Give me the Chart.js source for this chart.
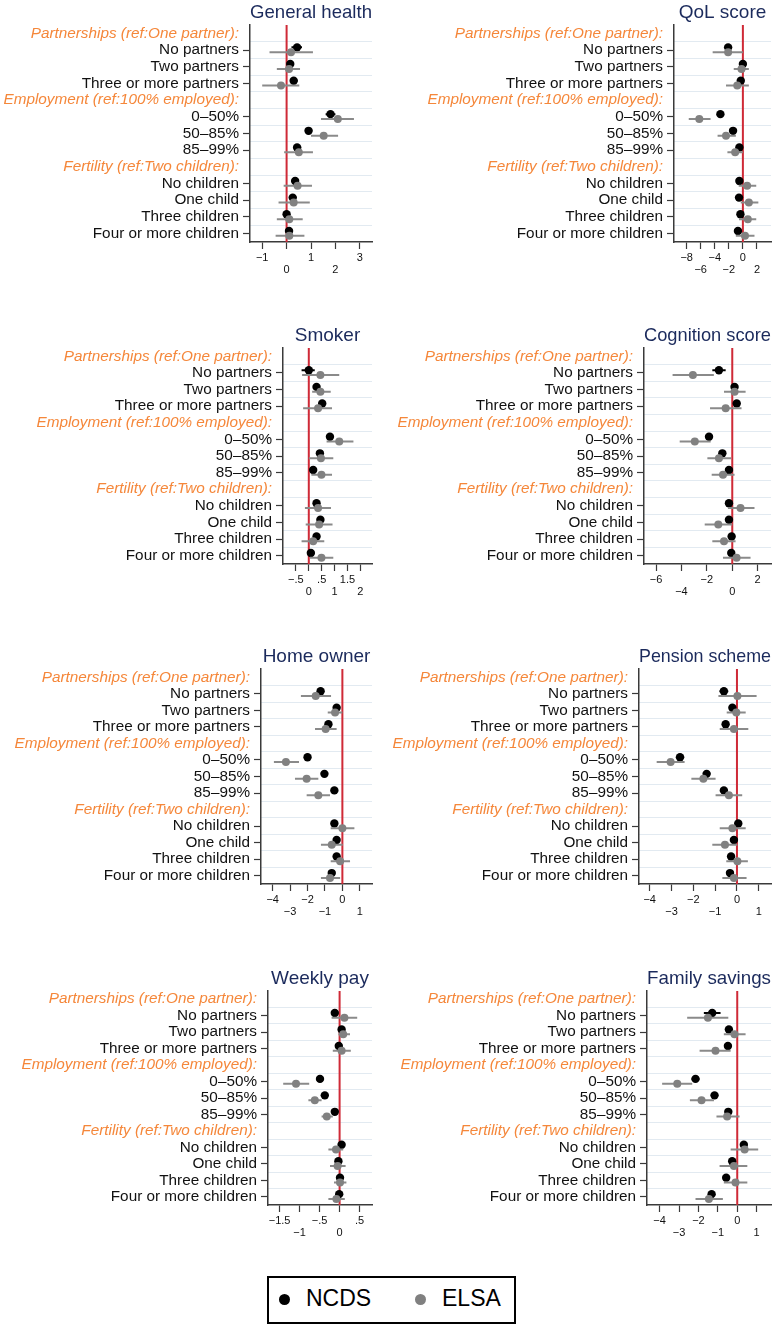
<!DOCTYPE html>
<html>
<head>
<meta charset="utf-8">
<script src="https://cdn.jsdelivr.net/npm/chart.js@4.4.0/dist/chart.umd.min.js"></script>
<style>
  body { margin: 0; background: #fff; width: 778px; height: 1328px; position: relative; overflow: hidden;
         font-family: "Liberation Sans", Arial, sans-serif; }
  canvas { position: absolute; }
  #legend { position: absolute; left: 267px; top: 1276px; width: 245px; height: 44px; border: 2px solid #000; }
  #legend .dot { position: absolute; top: 16px; width: 11px; height: 11px; border-radius: 50%; }
  #legend .lab { position: absolute; top: 7px; font-size: 23px; color: #000; }
</style>
</head>
<body>
<div id="legend">
  <span class="dot" style="left:10px;background:#000"></span><span class="lab" style="left:37px">NCDS</span>
  <span class="dot" style="left:146px;background:#808080"></span><span class="lab" style="left:173px">ELSA</span>
</div>
<script>
// row labels (13 rows, three of them are group headers)
var rowLabels = ['Partnerships (ref:One partner):', 'No partners', 'Two partners', 'Three or more partners',
  'Employment (ref:100% employed):', '0–50%', '50–85%', '85–99%',
  'Fertility (ref:Two children):', 'No children', 'One child', 'Three children', 'Four or more children'];
var headerRows = [0, 4, 8];
var itemRows = [2, 3, 4, 6, 7, 8, 10, 11, 12, 13];

// [estimate, lower, upper] per item
var healthNCDS = [[0.43,0.2,0.63],[0.15,0.05,0.25],[0.29,0.15,0.45],[1.8,1.6,2.0],[0.9,0.75,1.05],[0.43,0.3,0.6],[0.35,0.2,0.5],[0.25,0.1,0.4],[0.0,-0.1,0.1],[0.1,-0.05,0.2]];
var healthELSA = [[0.18,-0.7,1.08],[0.1,-0.4,0.55],[-0.23,-1.0,0.52],[2.1,1.41,2.76],[1.52,1.0,2.11],[0.5,-0.1,1.08],[0.45,-0.12,1.04],[0.29,-0.33,0.95],[0.11,-0.4,0.66],[0.11,-0.45,0.73]];
var healthTicks = [-1, 0, 1, 2, 3];
var healthTickLabels = ['−1', '0', '1', '2', '3'];

var qolNCDS = [[-2.1,-2.5,-1.7],[0.0,-0.2,0.2],[-0.3,-0.6,0.0],[-3.2,-3.5,-2.9],[-1.4,-1.7,-1.1],[-0.5,-0.8,-0.2],[-0.5,-0.8,-0.2],[-0.55,-0.85,-0.25],[-0.35,-0.65,-0.05],[-0.7,-1.0,-0.4]];
var qolELSA = [[-2.1,-4.3,0.0],[-0.2,-1.3,0.85],[-0.8,-2.4,0.85],[-6.2,-7.7,-4.6],[-2.4,-3.6,-1.0],[-1.1,-2.2,0.0],[0.6,-0.6,1.9],[0.85,-0.3,2.2],[0.7,-0.55,1.9],[0.3,-1.0,1.65]];
var qolTicks = [-8, -6, -4, -2, 0, 2];
var qolTickLabels = ['−8', '−6', '−4', '−2', '0', '2'];

var smokerNCDS = [[0.0,-0.28,0.23],[0.3,0.2,0.4],[0.52,0.42,0.62],[0.82,0.7,0.95],[0.43,0.33,0.53],[0.17,0.07,0.27],[0.3,0.18,0.42],[0.45,0.33,0.57],[0.3,0.18,0.42],[0.08,-0.04,0.2]];
var smokerELSA = [[0.45,-0.26,1.18],[0.45,0.13,0.85],[0.36,-0.22,0.9],[1.18,0.69,1.73],[0.47,0.0,0.95],[0.49,0.1,0.9],[0.36,-0.15,0.86],[0.4,-0.12,0.92],[0.17,-0.28,0.6],[0.49,0.04,0.95]];
var smokerTicks = [-0.5, 0, 0.5, 1, 1.5, 2];
var smokerTickLabels = ['−.5', '0', '.5', '1', '1.5', '2'];

var cognitionNCDS = [[-1.05,-1.57,-0.52],[0.18,0.0,0.35],[0.35,0.15,0.55],[-1.83,-2.1,-1.55],[-0.78,-1.0,-0.55],[-0.26,-0.5,-0.02],[-0.26,-0.5,-0.02],[-0.26,-0.5,-0.02],[-0.05,-0.25,0.15],[-0.08,-0.3,0.15]];
var cognitionELSA = [[-3.1,-4.7,-1.45],[0.18,-0.65,1.05],[-0.52,-1.75,0.73],[-2.95,-4.14,-1.7],[-1.05,-1.96,-0.08],[-0.73,-1.62,0.18],[0.65,-0.34,1.75],[-1.1,-2.17,0.0],[-0.65,-1.57,0.26],[0.34,-0.73,1.44]];
var cognitionTicks = [-6, -4, -2, 0, 2];
var cognitionTickLabels = ['−6', '−4', '−2', '0', '2'];

var homeNCDS = [[-1.25,-1.45,-1.05],[-0.33,-0.45,-0.2],[-0.8,-0.95,-0.65],[-2.0,-2.12,-1.88],[-1.03,-1.15,-0.9],[-0.46,-0.58,-0.34],[-0.46,-0.6,-0.32],[-0.33,-0.47,-0.19],[-0.33,-0.47,-0.19],[-0.61,-0.75,-0.47]];
var homeELSA = [[-1.53,-2.38,-0.65],[-0.42,-0.84,0.0],[-0.96,-1.57,-0.33],[-3.24,-3.93,-2.49],[-2.05,-2.72,-1.38],[-1.38,-2.05,-0.71],[0.0,-0.67,0.69],[-0.61,-1.23,0.02],[-0.13,-0.67,0.44],[-0.71,-1.23,-0.13]];
var homeTicks = [-4, -3, -2, -1, 0, 1];
var homeTickLabels = ['−4', '−3', '−2', '−1', '0', '1'];

var pensionNCDS = [[-0.6,-0.8,-0.4],[-0.21,-0.35,-0.07],[-0.52,-0.68,-0.36],[-2.61,-2.8,-2.42],[-1.39,-1.55,-1.23],[-0.6,-0.76,-0.44],[0.06,-0.1,0.22],[-0.14,-0.3,0.02],[-0.27,-0.42,-0.12],[-0.32,-0.48,-0.16]];
var pensionELSA = [[0.02,-0.85,0.9],[-0.03,-0.47,0.4],[-0.14,-0.79,0.52],[-3.04,-3.68,-2.4],[-1.54,-2.09,-0.98],[-0.37,-0.98,0.24],[-0.21,-0.79,0.4],[-0.55,-1.13,0.02],[0.02,-0.49,0.5],[-0.14,-0.67,0.44]];
var pensionTicks = [-4, -3, -2, -1, 0, 1];
var pensionTickLabels = ['−4', '−3', '−2', '−1', '0', '1'];

var payNCDS = [[-0.12,-0.2,-0.04],[0.05,0.0,0.1],[-0.02,-0.07,0.03],[-0.49,-0.54,-0.44],[-0.37,-0.42,-0.32],[-0.12,-0.17,-0.07],[0.05,0.0,0.1],[-0.03,-0.08,0.02],[0.01,-0.04,0.06],[-0.01,-0.06,0.04]];
var payELSA = [[0.12,-0.2,0.44],[0.09,-0.03,0.26],[0.05,-0.17,0.28],[-1.09,-1.41,-0.76],[-0.62,-0.78,-0.45],[-0.32,-0.45,-0.17],[-0.09,-0.28,0.09],[-0.05,-0.24,0.15],[0.01,-0.14,0.17],[-0.08,-0.28,0.13]];
var payTicks = [-1.5, -1, -0.5, 0, 0.5];
var payTickLabels = ['−1.5', '−1', '−.5', '0', '.5'];

var savingsNCDS = [[-1.29,-1.72,-0.86],[-0.43,-0.55,-0.31],[-0.48,-0.62,-0.34],[-2.15,-2.35,-1.95],[-1.17,-1.35,-1.0],[-0.46,-0.6,-0.32],[0.34,0.2,0.48],[-0.26,-0.4,-0.12],[-0.57,-0.71,-0.43],[-1.32,-1.5,-1.14]];
var savingsELSA = [[-1.51,-2.58,-0.46],[-0.14,-0.69,0.43],[-1.12,-1.94,-0.34],[-3.09,-3.87,-2.32],[-1.84,-2.44,-1.2],[-0.52,-1.07,0.12],[0.38,-0.34,1.08],[-0.17,-0.91,0.52],[-0.09,-0.69,0.52],[-1.46,-2.15,-0.74]];
var savingsTicks = [-4, -3, -2, -1, 0, 1];
var savingsTickLabels = ['−4', '−3', '−2', '−1', '0', '1'];

var FONT = '"Liberation Sans", Arial, sans-serif';
var ORANGE = '#f5873a';
var NAVY = '#1b2a5c';
var RED = '#cf2a37';
var GRAY = '#818181';
var AXIS = '#3a3a3a';

// canvas left, axis x, plot right, plot top, plot bottom
var panels = [
  { title: 'General health',  ncds: healthNCDS,    elsa: healthELSA,    min: -1.5,  max: 3.5,  ticks: healthTicks,    labels: healthTickLabels,    box: [0, 250, 372, 25, 242] },
  { title: 'QoL score',       ncds: qolNCDS,       elsa: qolELSA,       min: -9.8,  max: 4.0,  ticks: qolTicks,       labels: qolTickLabels,       box: [389, 674, 771, 25, 242] },
  { title: 'Smoker',          ncds: smokerNCDS,    elsa: smokerELSA,    min: -1.0,  max: 2.45, ticks: smokerTicks,    labels: smokerTickLabels,    box: [0, 283, 372, 348, 564] },
  { title: 'Cognition score', ncds: cognitionNCDS, elsa: cognitionELSA, min: -6.95, max: 3.05, ticks: cognitionTicks, labels: cognitionTickLabels, box: [389, 644, 771, 348, 564] },
  { title: 'Home owner',      ncds: homeNCDS,      elsa: homeELSA,      min: -4.67, max: 1.7,  ticks: homeTicks,      labels: homeTickLabels,      box: [0, 261, 372, 669, 884] },
  { title: 'Pension scheme',  ncds: pensionNCDS,   elsa: pensionELSA,   min: -4.49, max: 1.56, ticks: pensionTicks,   labels: pensionTickLabels,   box: [389, 639, 771, 669, 884] },
  { title: 'Weekly pay',      ncds: payNCDS,       elsa: payELSA,       min: -1.79, max: 0.81, ticks: payTicks,       labels: payTickLabels,       box: [0, 268, 372, 991, 1205] },
  { title: 'Family savings',  ncds: savingsNCDS,   elsa: savingsELSA,   min: -4.65, max: 1.74, ticks: savingsTicks,   labels: savingsTickLabels,   box: [389, 647, 771, 991, 1205] }
];

function isHeader(i) { return headerRows.indexOf(i) >= 0; }

function ciLine(rows, shift) {
  var pts = [];
  rows.forEach(function (r, i) {
    var y = itemRows[i] + shift;
    pts.push({ x: r[1], y: y }, { x: r[2], y: y }, { x: r[2], y: null });
  });
  return pts;
}

function dots(rows, shift) {
  return rows.map(function (r, i) { return { x: r[0], y: itemRows[i] + shift }; });
}

function makePanel(p) {
  var cl = p.box[0], ax = p.box[1], pr = p.box[2], pt = p.box[3], pb = p.box[4];
  var top = pt - 25;
  var cv = document.createElement('canvas');
  cv.width = pr + 5 - cl;
  cv.height = pb - top + 38;
  cv.style.left = cl + 'px';
  cv.style.top = top + 'px';
  document.body.appendChild(cv);

  var nRows = rowLabels.length;
  new Chart(cv, {
    type: 'scatter',
    data: {
      datasets: [
        { type: 'line', data: [{ x: 0, y: 0.5 }, { x: 0, y: nRows + 0.5 }], borderColor: RED, borderWidth: 2, pointRadius: 0, order: 5 },
        { type: 'line', data: ciLine(p.ncds, -0.16), borderColor: '#000', borderWidth: 2, pointRadius: 0, spanGaps: false, order: 4 },
        { data: dots(p.ncds, -0.16), backgroundColor: '#000', borderWidth: 0, pointRadius: 4.2, order: 3 },
        { type: 'line', data: ciLine(p.elsa, 0.13), borderColor: '#8a8a8a', borderWidth: 2, pointRadius: 0, spanGaps: false, order: 2 },
        { data: dots(p.elsa, 0.13), backgroundColor: GRAY, borderWidth: 0, pointRadius: 4, order: 1 }
      ]
    },
    options: {
      responsive: false,
      animation: false,
      events: [],
      layout: { padding: { left: 0, right: 5, top: 0, bottom: 0 } },
      plugins: {
        legend: { display: false },
        tooltip: { enabled: false },
        title: {
          display: true, text: p.title, color: NAVY, fullSize: false,
          font: { family: FONT, size: 19, weight: 'normal', lineHeight: 1.2 },
          padding: { top: 1, bottom: 1.2 }
        }
      },
      scales: {
        x: {
          type: 'linear', min: p.min, max: p.max,
          afterBuildTicks: function (s) { s.ticks = p.ticks.map(function (v) { return { value: v }; }); },
          afterFit: function (s) { s.height = 38; },
          ticks: {
            autoSkip: false, maxRotation: 0, padding: 3, color: '#111',
            font: { family: FONT, size: 11, lineHeight: 1.06 },
            callback: function (v, i) { return i % 2 === 0 ? [p.labels[i], ''] : ['', p.labels[i]]; }
          },
          grid: { drawOnChartArea: false, tickLength: 7, tickColor: AXIS, tickWidth: 1.2 },
          border: { color: AXIS, width: 1.5 }
        },
        y: {
          type: 'linear', min: 0.5, max: nRows + 0.5, reverse: true,
          afterBuildTicks: function (s) { s.ticks = rowLabels.map(function (_, i) { return { value: i + 1 }; }); },
          afterFit: function (s) { s.width = ax - cl; },
          ticks: {
            autoSkip: false, padding: 4,
            callback: function (v, i) { return rowLabels[i]; },
            color: function (c) { return isHeader(c.index) ? ORANGE : '#111'; },
            font: function (c) { return { family: FONT, size: 15.3, style: isHeader(c.index) ? 'italic' : 'normal' }; }
          },
          grid: {
            drawOnChartArea: false, tickLength: 7, tickWidth: 1.2,
            tickColor: function (c) { return isHeader(c.index) ? 'rgba(0,0,0,0)' : AXIS; }
          },
          border: { color: AXIS, width: 1.5 }
        },
        rows: {
          type: 'linear', position: 'left', min: 0.5, max: nRows + 0.5, reverse: true,
          afterBuildTicks: function (s) {
            var t = [];
            for (var k = 1; k < nRows; k++) t.push({ value: k + 0.5 });
            s.ticks = t;
          },
          afterFit: function (s) { s.width = 0; },
          ticks: { display: false },
          grid: { color: '#e2eaf1', lineWidth: 1, drawTicks: false },
          border: { display: false }
        }
      }
    }
  });
}

panels.forEach(makePanel);
</script>
</body>
</html>
